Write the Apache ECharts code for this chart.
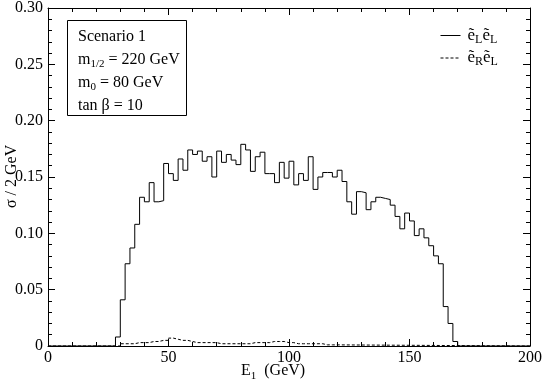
<!DOCTYPE html>
<html>
<head>
<meta charset="utf-8">
<script src="https://cdn.jsdelivr.net/npm/echarts@6/dist/echarts.min.js"></script>
<style>
html, body { margin: 0; padding: 0; background: #fff; }
#chart { width: 545px; height: 384px; }
</style>
</head>
<body>
<div id="chart"></div>
<script>
// histogram, 2 GeV bins, values per bin from the left edge
const binWidth = 2;

const lLStart = 28;
const lLValues = [
    0.008, 0.041, 0.073, 0.087, 0.108, 0.132, 0.128, 0.145, 0.128, 0.129,
    0.162, 0.153, 0.147, 0.166, 0.156, 0.174, 0.170, 0.173, 0.164, 0.168,
    0.150, 0.173, 0.163, 0.170, 0.165, 0.161, 0.179, 0.174, 0.155, 0.168,
    0.172, 0.153, 0.153, 0.145, 0.163, 0.149, 0.164, 0.143, 0.153, 0.147,
    0.168, 0.139, 0.150, 0.154, 0.154, 0.150, 0.156, 0.146, 0.128, 0.117,
    0.137, 0.136, 0.121, 0.128, 0.132, 0.131, 0.130, 0.125, 0.115, 0.104,
    0.118, 0.111, 0.098, 0.104, 0.096, 0.089, 0.080, 0.073, 0.035, 0.020,
    0.004
];

const rLStart = 30;
const rLValues = [
    0.002, 0.002, 0.002, 0.003, 0.003, 0.003, 0.004, 0.004, 0.005, 0.005,
    0.007, 0.006, 0.005, 0.005, 0.004, 0.003, 0.003, 0.003, 0.003, 0.003,
    0.002, 0.002, 0.002, 0.002, 0.002, 0.002, 0.002, 0.003, 0.003, 0.003,
    0.003, 0.004, 0.004, 0.004, 0.003, 0.003, 0.002, 0.002, 0.002, 0.002,
    0.002, 0.002, 0.001, 0.001, 0.001
];

const seriesNames = ["eLeL", "eReL"];
const legendLabels = {
    eLeL: "{e|ẽ}{s|L}{e|ẽ}{s|L}",
    eReL: "{e|ẽ}{s|R}{e|ẽ}{s|L}"
};

const xMin = 0, xMax = 200, xStep = 50;
const yMin = 0, yMax = 0.30, yStep = 0.05;

const FONT = "Liberation Serif";

function stepPoints(start, values) {
    let pts = [[xMin, 0]];
    values.forEach((v, i) => {
        pts.push([start + i * binWidth, v]);
    });
    pts.push([start + values.length * binWidth, 0]);
    pts.push([xMax, 0]);
    return pts;
}

const chart = echarts.init(document.getElementById("chart"));

const tickCfg = {
    inside: true,
    length: 7,
    lineStyle: { color: "#000", width: 1 }
};
const minorCfg = {
    show: true,
    splitNumber: 5,
    length: 4,
    lineStyle: { color: "#000", width: 1 }
};
const lineCfg = {
    show: true,
    onZero: false,
    lineStyle: { color: "#000", width: 1 }
};

function xAxisCfg(pos, labels) {
    return {
        type: "value",
        position: pos,
        min: xMin,
        max: xMax,
        interval: xStep,
        axisLine: lineCfg,
        axisTick: tickCfg,
        minorTick: minorCfg,
        splitLine: { show: false },
        axisLabel: {
            show: labels,
            color: "#000",
            fontFamily: FONT,
            fontSize: 16,
            margin: 4
        }
    };
}

function yAxisCfg(pos, labels) {
    return {
        type: "value",
        position: pos,
        min: yMin,
        max: yMax,
        interval: yStep,
        axisLine: lineCfg,
        axisTick: tickCfg,
        minorTick: minorCfg,
        splitLine: { show: false },
        axisLabel: {
            show: labels,
            color: "#000",
            fontFamily: FONT,
            fontSize: 16,
            margin: 5,
            formatter: v => (v === 0 ? "0" : v.toFixed(2))
        }
    };
}

const subRich = {
    e: { fontFamily: FONT, fontSize: 17, color: "#000", lineHeight: 20, verticalAlign: "middle" },
    s: { fontFamily: FONT, fontSize: 12, color: "#000", lineHeight: 12, verticalAlign: "bottom" }
};

const option = {
    animation: false,
    backgroundColor: "#fff",
    grid: { left: 48, right: 14, top: 7, bottom: 38 },
    xAxis: [xAxisCfg("bottom", true), xAxisCfg("top", false)],
    yAxis: [yAxisCfg("left", true), yAxisCfg("right", false)],
    legend: {
        orient: "vertical",
        left: 435,
        top: 22,
        itemWidth: 20,
        itemHeight: 10,
        itemGap: 4,
        data: seriesNames,
        formatter: name => legendLabels[name],
        // hide the marker ECharts puts in the middle of the line icon
        itemStyle: { opacity: 0, borderWidth: 0 },
        lineStyle: { width: 1 },
        textStyle: { rich: subRich, fontFamily: FONT, color: "#000", padding: [0, 0, 0, 2] }
    },
    graphic: [
        {
            type: "rect",
            shape: { x: 67.5, y: 20.5, width: 119, height: 95 },
            style: { fill: "#fff", stroke: "#000", lineWidth: 1 },
            z: 10
        },
        {
            type: "text",
            left: 78,
            top: 25,
            z: 11,
            style: {
                text: "Scenario 1\nm{s|1/2} = 220 GeV\nm{s|0} = 80 GeV\ntan β = 10",
                fontFamily: FONT,
                fontSize: 16,
                lineHeight: 23,
                fill: "#000",
                rich: {
                    s: { fontFamily: FONT, fontSize: 11, lineHeight: 23, padding: [10, 0, 0, 0] }
                }
            }
        },
        {
            type: "text",
            left: 241,
            top: 363,
            style: {
                text: "E{s|1}  (GeV)",
                fontFamily: FONT,
                fontSize: 16,
                fill: "#000",
                rich: {
                    s: { fontFamily: FONT, fontSize: 11, padding: [10, 0, 0, 0] }
                }
            }
        },
        {
            type: "text",
            x: 4,
            y: 208,
            rotation: Math.PI / 2,
            style: {
                text: "σ / 2 GeV",
                fontFamily: FONT,
                fontSize: 16,
                fill: "#000"
            }
        }
    ],
    series: [
        {
            name: seriesNames[0],
            type: "line",
            step: "end",
            showSymbol: false,
            symbol: "none",
            data: stepPoints(lLStart, lLValues),
            lineStyle: { color: "#000", width: 1 },
            itemStyle: { color: "#000" }
        },
        {
            name: seriesNames[1],
            type: "line",
            step: "end",
            showSymbol: false,
            symbol: "none",
            data: stepPoints(rLStart, rLValues),
            lineStyle: { color: "#000", width: 1, type: [3, 2] },
            itemStyle: { color: "#000" }
        }
    ]
};

chart.setOption(option);
</script>
</body>
</html>
